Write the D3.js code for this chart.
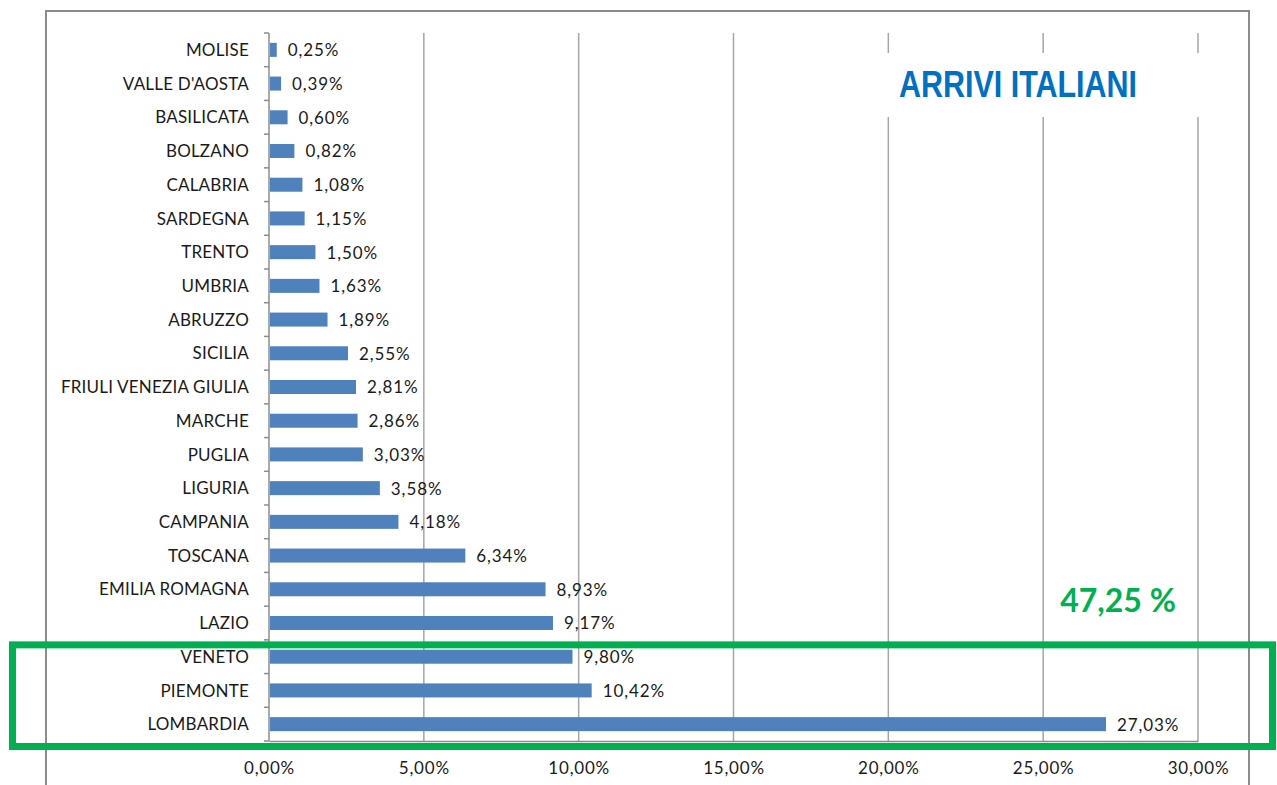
<!DOCTYPE html>
<html>
<head>
<meta charset="utf-8">
<script src="https://cdn.jsdelivr.net/npm/d3@7"></script>
<style>
  body { margin: 0; background: #fff; }
  svg { display: block; }
  text { font-family: Lato, "Open Sans", sans-serif; fill: #1a1a1a; }
</style>
</head>
<body>
<svg id="chart" width="1277" height="785"></svg>
<script>
// regions, top to bottom as in the picture
var regions = ["MOLISE", "VALLE D'AOSTA", "BASILICATA", "BOLZANO", "CALABRIA", "SARDEGNA",
  "TRENTO", "UMBRIA", "ABRUZZO", "SICILIA", "FRIULI VENEZIA GIULIA", "MARCHE", "PUGLIA",
  "LIGURIA", "CAMPANIA", "TOSCANA", "EMILIA ROMAGNA", "LAZIO", "VENETO", "PIEMONTE", "LOMBARDIA"];
var shares = [0.0025, 0.0039, 0.0060, 0.0082, 0.0108, 0.0115, 0.0150, 0.0163, 0.0189, 0.0255,
  0.0281, 0.0286, 0.0303, 0.0358, 0.0418, 0.0634, 0.0893, 0.0917, 0.0980, 0.1042, 0.2703];
var xTicks = [0, 0.05, 0.10, 0.15, 0.20, 0.25, 0.30];
var highlighted = ["VENETO", "PIEMONTE", "LOMBARDIA"];
var titleText = "ARRIVI ITALIANI";
var totalText = "47,25 %";

var data = regions.map(function(r, i) { return { region: r, value: shares[i] }; });

var it = d3.formatLocale({ decimal: ",", thousands: ".", grouping: [3], currency: ["", "€"] });
var pct = it.format(".2%");

var svg = d3.select("#chart");

var x = d3.scaleLinear().domain([0, 0.30]).range([269, 1198]);
var y = d3.scaleBand().domain(regions).range([33, 741]);
var barH = 14;

// outer chart frame (open at the bottom)
svg.append("path")
  .attr("d", "M46,785 L46,11 L1249,11 L1249,785")
  .attr("fill", "none")
  .attr("stroke", "#8c8c8c")
  .attr("stroke-width", 2);

// vertical gridlines
svg.append("g")
  .selectAll("line")
  .data(xTicks.slice(1))
  .enter().append("line")
  .attr("x1", function(d) { return x(d); })
  .attr("x2", function(d) { return x(d); })
  .attr("y1", y.range()[0])
  .attr("y2", y.range()[1])
  .attr("stroke", "#a6a6a6")
  .attr("stroke-width", 1.5);

// bottom axis
var xAxis = svg.append("g")
  .attr("transform", "translate(0," + y.range()[1] + ")")
  .call(d3.axisBottom(x).tickValues(xTicks).tickFormat(pct).tickSize(0).tickPadding(21));
xAxis.select(".domain").attr("stroke", "#8c8c8c").attr("stroke-width", 1.5);
xAxis.selectAll("text")
  .style("font-family", "Lato, sans-serif")
  .attr("font-size", 17)
  .attr("letter-spacing", 0.8)
  .attr("fill", "#1a1a1a");

// category axis
var yAxis = svg.append("g").attr("transform", "translate(" + x(0) + ",0)");
yAxis.append("line")
  .attr("y1", y.range()[0]).attr("y2", y.range()[1])
  .attr("stroke", "#8c8c8c").attr("stroke-width", 1.5);
yAxis.selectAll("line.tk")
  .data(regions.concat(["_end"]))
  .enter().append("line")
  .attr("class", "tk")
  .attr("x1", -5).attr("x2", 0)
  .attr("y1", function(d, i) { return y.range()[0] + i * y.bandwidth(); })
  .attr("y2", function(d, i) { return y.range()[0] + i * y.bandwidth(); })
  .attr("stroke", "#8c8c8c").attr("stroke-width", 1.5);
yAxis.selectAll("text")
  .data(regions)
  .enter().append("text")
  .attr("x", -20)
  .attr("y", function(d) { return y(d) + y.bandwidth() / 2; })
  .attr("dy", "0.36em")
  .attr("text-anchor", "end")
  .attr("font-size", 17)
  .attr("letter-spacing", 0.2)
  .text(function(d) { return d; });

// bars
svg.append("g")
  .selectAll("rect")
  .data(data)
  .enter().append("rect")
  .attr("x", x(0) + 1)
  .attr("y", function(d) { return y(d.region) + (y.bandwidth() - barH) / 2; })
  .attr("width", function(d) { return x(d.value) - x(0) - 1; })
  .attr("height", barH)
  .attr("fill", "#4f81bd");

// value labels
svg.append("g")
  .selectAll("text")
  .data(data)
  .enter().append("text")
  .attr("x", function(d) { return x(d.value) + 11; })
  .attr("y", function(d) { return y(d.region) + y.bandwidth() / 2; })
  .attr("dy", "0.38em")
  .attr("font-size", 17)
  .attr("letter-spacing", 0.9)
  .text(function(d) { return pct(d.value); });

// title, with a white box behind it like excel does
svg.append("rect")
  .attr("x", 878).attr("y", 53).attr("width", 328).attr("height", 64)
  .attr("fill", "#fff");
svg.append("text")
  .attr("x", 899).attr("y", 97)
  .attr("font-size", 37)
  .attr("font-weight", "bold")
  .attr("textLength", 238)
  .attr("lengthAdjust", "spacingAndGlyphs")
  .style("font-family", "'Liberation Sans Narrow', 'Liberation Sans', Arial, sans-serif")
  .style("fill", "#0070c0")
  .text(titleText);

svg.append("text")
  .attr("x", 1118).attr("y", 612)
  .attr("text-anchor", "middle")
  .attr("font-size", 32)
  .attr("font-weight", "bold")
  .style("fill", "#00b050")
  .text(totalText);

// green box round the top three
var boxTop = y(highlighted[0]) + 5;
var boxBottom = y(highlighted[highlighted.length - 1]) + y.bandwidth() + 5.5;
svg.append("rect")
  .attr("x", 12.5)
  .attr("y", boxTop)
  .attr("width", 1260)
  .attr("height", boxBottom - boxTop)
  .attr("fill", "none")
  .attr("stroke", "#00b050")
  .attr("stroke-width", 7);
</script>
</body>
</html>
